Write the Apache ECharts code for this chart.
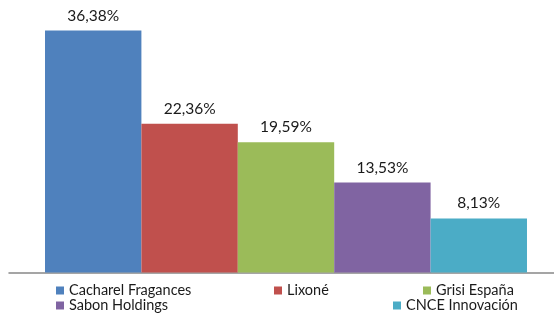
<!DOCTYPE html>
<html>
<head>
<meta charset="utf-8">
<script src="https://cdn.jsdelivr.net/npm/echarts@6/dist/echarts.min.js"></script>
<style>
  html, body { margin: 0; padding: 0; background: #fff; }
  #chart { width: 554px; height: 317px; }
</style>
</head>
<body>
<div id="chart"></div>
<script>
  // datos
  const companies = ['Cacharel Fragances', 'Lixoné', 'Grisi España', 'Sabon Holdings', 'CNCE Innovación'];
  const shares = [36.38, 22.36, 19.59, 13.53, 8.13];
  const colors = ['#4F81BD', '#C0504D', '#9BBB59', '#8064A2', '#4BACC6'];

  // posicion de cada entrada de leyenda (como en el original de Excel)
  const legendPos = [
    {left: 51, top: 278},
    {left: 269, top: 278},
    {left: 418, top: 278},
    {left: 51, top: 293},
    {left: 388, top: 293}
  ];

  let myChart = echarts.init(document.getElementById('chart'));

  let series = companies.map(function (name, i) {
    return {
      type: 'bar',
      name: name,
      data: [shares[i]],
      barGap: '0%',
      barCategoryGap: '13%',
      itemStyle: {color: colors[i]},
      label: {
        show: true,
        position: 'top',
        distance: 7,
        color: '#1a1a1a',
        fontSize: 15.5,
        fontFamily: 'Lato',
        formatter: function (p) {
          return p.value.toFixed(2).replace('.', ',') + '%';
        }
      }
    };
  });

  let legends = companies.map(function (name, i) {
    return {
      data: [name],
      left: legendPos[i].left,
      top: legendPos[i].top,
      itemWidth: 8,
      itemHeight: 8,
      icon: 'rect',
      padding: 5,
      textStyle: {
        fontSize: 14.5,
        fontFamily: 'Lato',
        color: '#1a1a1a'
      }
    };
  });

  myChart.setOption({
    animation: false,
    grid: {
      left: 9,
      right: -9,
      top: 6.5,
      bottom: 44.5,
      outerBoundsMode: 'none'
    },
    legend: legends,
    xAxis: {
      type: 'category',
      data: [''],
      axisTick: {show: false},
      axisLabel: {show: false},
      axisLine: {lineStyle: {color: '#888888', width: 1.5}}
    },
    yAxis: {
      type: 'value',
      min: 0,
      max: 40,
      show: false,
      splitLine: {show: false}
    },
    series: series
  });
</script>
</body>
</html>
